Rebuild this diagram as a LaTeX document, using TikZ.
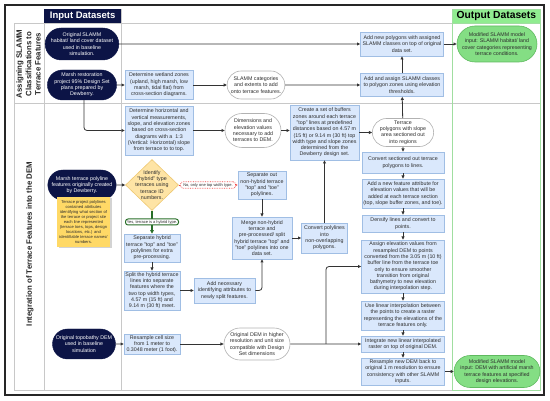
\documentclass[tikz,border=0pt]{standalone}
\usepackage{fontspec}
\setmainfont{Liberation Sans}
\usetikzlibrary{shapes.misc,shapes.geometric,arrows.meta,shadows}
\definecolor{navy}{RGB}{12,20,70}
\definecolor{blueF}{RGB}{218,232,252}
\definecolor{blueB}{RGB}{160,190,228}
\definecolor{goldF}{RGB}{254,228,165}
\definecolor{goldB}{RGB}{238,200,115}
\definecolor{noteF}{RGB}{255,217,102}
\definecolor{greenF}{RGB}{132,222,132}
\definecolor{greenB}{RGB}{95,185,95}
\definecolor{hdrG}{RGB}{144,236,144}
\definecolor{colG}{RGB}{160,222,160}
\definecolor{laneG}{RGB}{200,200,200}
\definecolor{dkgreen}{RGB}{40,110,40}
\definecolor{txt}{RGB}{45,45,45}
\definecolor{redD}{RGB}{240,70,70}
\begin{document}
\begin{tikzpicture}[x=1pt,y=-1pt,
  every node/.style={inner sep=1pt, text=txt},
  body/.style={font=\fontsize{5.3}{6.3}\selectfont, align=center},
  proc/.style={body, rectangle, draw=blueB, fill=blueF, line width=0.6pt},
  src/.style={body, rounded rectangle, fill=navy, draw=navy, text=white},
  res/.style={body, rounded rectangle, fill=white, draw=gray!60, line width=0.6pt},
  outp/.style={body, rounded rectangle, fill=greenF, draw=greenB, line width=0.6pt},
  sz/.style 2 args={minimum width=#1pt, minimum height=#2pt},
  conn/.style={draw=black!80, line width=0.8pt, -{Triangle[length=3.2pt,width=3pt]}},
  lanetxt/.style={rotate=90, font=\fontsize{7.8}{9.3}\selectfont\bfseries, align=center, text=black!85},
  grid/.style={draw=laneG, line width=0.6pt},
]
\useasboundingbox (0,0) rectangle (550,401);
% frame and lanes
\draw[grid] (14,23) rectangle (540,390);
\draw[grid] (14,103) -- (540,103);
\draw[grid] (44,9) -- (44,390);
\draw[grid] (121,9) -- (121,390);
\draw[draw=colG, line width=0.7pt] (452,9) rectangle (540,390);
\draw[black!85, line width=1.3pt] (5,5) rectangle (544,395);
\node[fill=navy, text=white, font=\fontsize{9.5}{10}\selectfont\bfseries, minimum width=77pt, minimum height=14pt, anchor=north west, inner sep=0] (hin) at (44,9) {Input Datasets};
\node[fill=hdrG, draw=colG, line width=0.7pt, text=black, font=\fontsize{10.3}{11}\selectfont\bfseries, minimum width=88pt, minimum height=14pt, anchor=north west, inner sep=0] (hout) at (452,9) {Output Datasets};
\node[lanetxt] (lane1) at (28.5,64) {Assigning SLAMM\\Classifications to\\Terrace Features};
\node[lanetxt] (lane2) at (30,244) {Integration of Terrace Features into the DEM};
% nodes - lane 1
\node[src, sz={66}{32}] (n1) at (82,44) {Original SLAMM\\habitat/ land cover dataset\\used in baseline\\simulation.};
\node[proc, sz={83}{24}] (p3) at (402,44) {Add new polygons with assigned\\SLAMM classes on top of original\\data set.};
\node[outp, sz={79}{36}] (o1) at (497,44) {Modified SLAMM model\\input: SLAMM habitat/ land\\cover categories representing\\terrace conditions.};
\node[src, sz={67}{30}] (n2) at (82,85) {Marsh restoration\\project 95\% Design Set\\plans prepared by\\Dewberry.};
\node[proc, sz={68}{29}] (p1) at (159,85) {Determine wetland zones\\(upland, high marsh, low\\marsh, tidal flat) from\\cross-section diagrams.};
\node[res, sz={56}{28}] (r1) at (256,85) {SLAMM categories\\and extents to add\\onto terrace features.};
\node[proc, sz={83}{23}] (p2) at (402,85) {Add and assign SLAMM classes\\to polygon zones using elevation\\thresholds.};
% lane 2
\node[proc, sz={68}{49}] (p4) at (159,130.5) {Determine horizontal and\\vertical measurements,\\slope, and elevation zones\\based on cross-section\\diagrams with a\ \ 1:3\\(Vertical: Horizontal) slope\\from terrace to to top.};
\node[res, sz={58}{34}] (r2) at (253,130.5) {Dimensions and\\elevation values\\necessary to add\\terraces to DEM.};
\node[proc, sz={69}{55}] (p5) at (324.5,132.5) {Create a set of buffers\\zones around each terrace\\"top" lines at predefined\\distances based on 4.57 m\\(15 ft) or 9.14 m (30 ft) top\\width type and slope zones\\determined from the\\Dewberry design set.};
\node[res, sz={52}{28}] (r3) at (403,132.5) {Terrace\\polygons with slope\\area sectioned out\\into regions};
\node[proc, sz={82}{21}] (p6) at (403,162.5) {Convert sectioned out terrace\\polygons to lines.};
\node[proc, sz={82}{29}] (p7) at (403,193.5) {Add a new feature attribute for\\elevation values that will be\\added at each terrace section\\(top, slope buffer zones, and toe).};
\node[proc, sz={82}{17}] (p8) at (403,223.5) {Densify lines and convert to\\points.};
\node[proc, sz={83}{53}] (p9) at (403,266.5) {Assign elevation values from\\resampled DEM to points\\converted from the 3.05 m (10 ft)\\buffer line from the terrace toe\\only to ensure smoother\\transition from original\\bathymetry to new elevation\\during interpolation step.};
\node[proc, sz={83}{29}] (p10) at (403,315.5) {Use linear interpolation between\\the points to create a raster\\representing the elevations of the\\terrace features only.};
\node[proc, sz={83}{16}] (p11) at (403,344) {Integrate new linear interpolated\\raster on top of original DEM.};
\node[proc, sz={83}{27}] (p12) at (403,371.5) {Resample new DEM back to\\original 1 m resolution to ensure\\consistency with other SLAMM\\inputs.};
\node[outp, sz={80}{32}] (o2) at (497,371.5) {Modified SLAMM model\\input: DEM with artificial marsh\\terrace features at specified\\design elevations.};
\node[src, sz={67}{30}] (n3) at (82,185) {Marsh terrace polyline\\features originally created\\by Dewberry.};
\node[rectangle, fill=noteF, sz={53}{50}, drop shadow={shadow xshift=1.5pt, shadow yshift=-1.5pt, opacity=0.35}, font=\fontsize{4.1}{4.9}\selectfont, align=center] (note) at (83.5,222) {Terrace project polylines\\contained attributes\\identifying what section of\\the terrace or project site\\each line represented\\(terrace toes, tops, design\\locations, etc.) and\\identifiable terrace names/\\numbers.};
\node[diamond, fill=goldF, draw=goldB, line width=0.6pt, minimum width=53pt, minimum height=51pt, inner sep=0] (d1) at (152,185) {};
\node[body] (d1t) at (d1.center) {Identify\\"hybrid" type\\terraces using\\terrace ID\\numbers.};
\node[proc, sz={48}{28}] (p13) at (262,185) {Separate out\\non-hybrid terrace\\"top" and "toe"\\polylines.};
\node[proc, sz={56}{28}] (p14) at (152,248) {Separate hybrid\\terrace "top" and "toe"\\polylines for extra\\pre-processing.};
\node[proc, sz={56}{39}] (p15) at (152,290.5) {Split the hybrid terrace\\lines into separate\\features where the\\two top width types,\\4.57 m (15 ft) and\\9.14 m (30 ft) meet.};
\node[proc, sz={61}{25}] (p16) at (224.5,290.5) {Add necessary\\identifying attributes to\\newly split features.};
\node[proc, sz={60}{42}] (p17) at (262,238) {Merge non-hybrid\\terrace and\\pre-processed/ split\\hybrid terrace "top" and\\"toe" polylines into one\\data set.};
\node[proc, sz={46}{30}] (p18) at (324.5,238) {Convert polylines\\into\\non-overlapping\\polygons.};
\node[src, sz={65}{30}] (n4) at (84,344) {Original topobathy DEM\\used in baseline\\simulation};
\node[proc, sz={56}{20}] (p19) at (152,344) {Resample cell size\\from 1 meter to\\0.3048 meter (1 foot).};
\node[res, sz={65}{32}] (r4) at (257,344) {Original DEM in higher\\resolution and unit size\\compatible with Design\\Set dimensions};
\coordinate (j) at (326,344);
% connectors
\draw[conn] (n1) -- (p3);
\draw[conn] (p3) -- (o1);
\draw[conn] (n2) -- (p1);
\draw[conn] (p1) -- (r1);
\draw[conn] (r1) -- (p2);
\draw[conn] (p2) -- (p3);
\draw[conn, rounded corners=3pt] ([xshift=2pt]n2.south) |- (p4.west);
\draw[conn] (p4) -- (r2);
\draw[conn] (r2.east) -- (r2.east -| p5.west);
\draw[conn] (p5.east |- r3.west) -- (r3.west);
\draw[conn] (r3) -- (p2);
\draw[conn] (r3) -- (p6);
\draw[conn] (p6) -- (p7);
\draw[conn] (p7) -- (p8);
\draw[conn] (p8) -- (p9);
\draw[conn] (p9) -- (p10);
\draw[conn] (p10) -- (p11);
\draw[conn] (p11) -- (p12);
\draw[conn] (p12) -- (o2);
\draw[conn] (n3) -- (d1);
\draw[conn, draw=redD, densely dotted] (d1.east) -- (p13.west);
\draw[conn, draw=dkgreen, line width=1.4pt, -{Triangle[length=3.6pt,width=3.6pt]}] (d1.south) -- (p14.north);
\draw[conn] (p14) -- (p15);
\draw[conn] (p15) -- (p16);
\draw[conn, rounded corners=3pt] (p16.east) -| (p17.south);
\draw[conn] (p13) -- (p17);
\draw[conn] (p17) -- (p18);
\draw[conn] (p18) -- (p5);
\draw[conn] (n4) -- (p19);
\draw[conn] (p19) -- (r4);
\draw[conn] (r4) -- (p11);
\draw[conn, rounded corners=3pt] (j) |- (p9.west);
% connector labels
\node[fill=white, draw=redD, densely dotted, line width=0.7pt, rounded corners=2.5pt, font=\fontsize{4}{4.5}\selectfont, inner sep=0.8pt, minimum width=55pt, minimum height=6.5pt] (lno) at (208,185) {No, only one top width type.};
\node[fill=white, draw=dkgreen, line width=1pt, rounded corners=2.5pt, font=\fontsize{4}{4.5}\selectfont, inner sep=0.6pt, minimum width=53pt, minimum height=6pt] (lyes) at (152,222) {Yes, terrace is a hybrid type.};
\end{tikzpicture}
\end{document}
